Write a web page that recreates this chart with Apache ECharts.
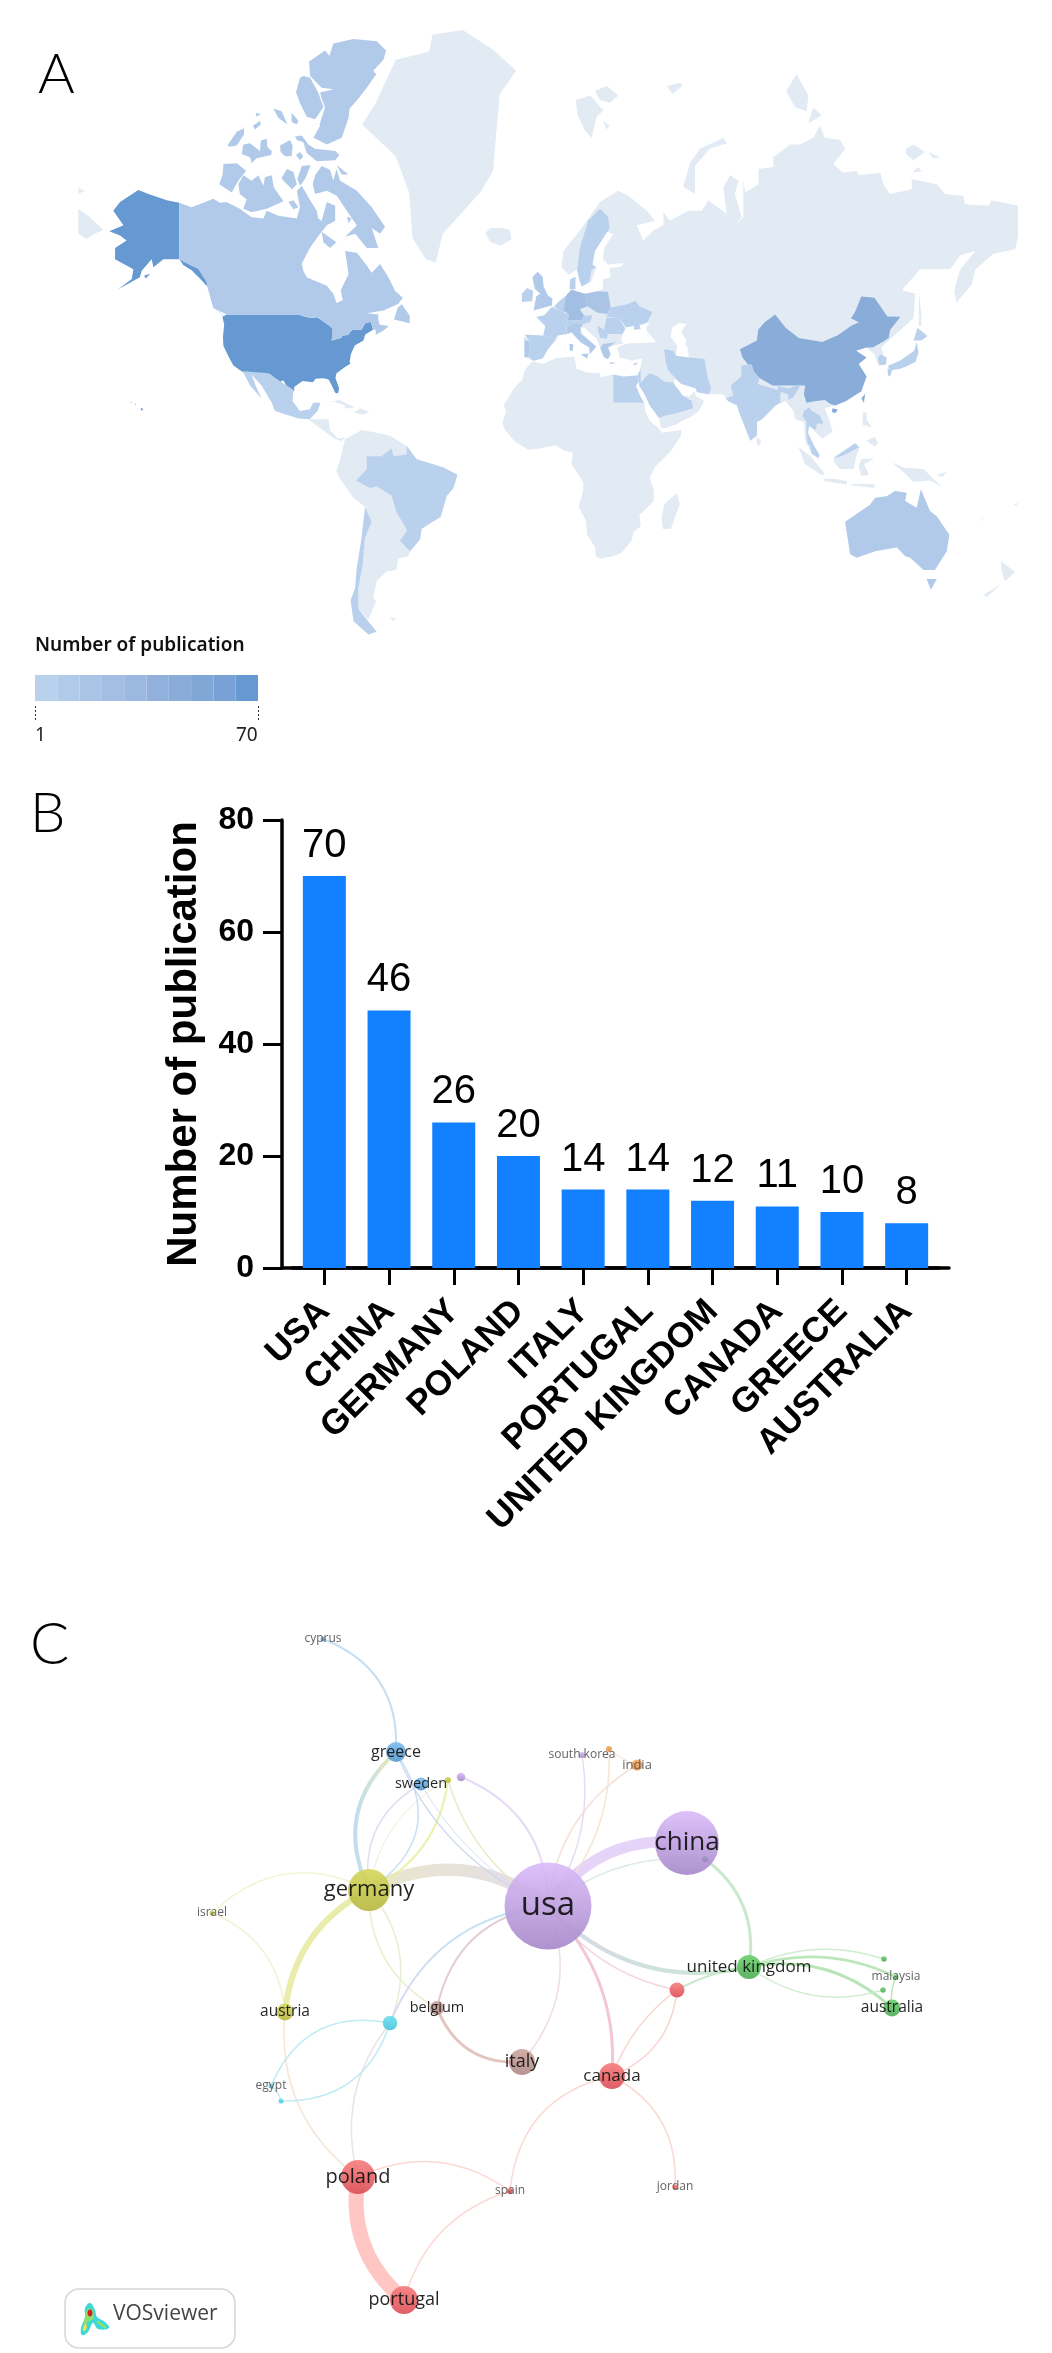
<!DOCTYPE html>
<html>
<head>
<meta charset="utf-8">
<title>Number of publication</title>
<script src="https://cdn.jsdelivr.net/npm/echarts@6/dist/echarts.min.js"></script>
<style>
  html, body { margin: 0; padding: 0; background: #fff; }
  #main { width: 1052px; height: 2353px; }
</style>
</head>
<body>
<div id="main"></div>
<script>
// panel B
const barCountries = ["USA", "CHINA", "GERMANY", "POLAND", "ITALY", "PORTUGAL", "UNITED KINGDOM", "CANADA", "GREECE", "AUSTRALIA"];
const barValues = [70, 46, 26, 20, 14, 14, 12, 11, 10, 8];

// panel A, values per region (the ones outside the top ten are read from the shade)
const mapNames = ["USA", "China", "Germany", "Poland", "Italy", "Portugal", "UK", "Canada", "Greece", "Australia", "Sweden", "Spain", "France", "Benelux", "Austria", "Switzerland", "Iran", "India", "Japan", "South Korea", "Brazil", "Mexico", "Chile", "Saudi Arabia", "Egypt", "Thailand", "Malaysia", "Ukraine", "Romania", "Serbia", "Ireland", "Denmark", "Cyprus", "Israel"];
const mapValues = [70, 46, 26, 20, 14, 14, 12, 11, 10, 8, 5, 6, 6, 6, 7, 5, 3, 6, 4, 3, 3, 4, 2, 3, 4, 2, 3, 3, 3, 3, 3, 3, 2, 2];
const legendColors = ["#bad1ee", "#b2cae9", "#aac4e6", "#a2bee3", "#9ab8e0", "#92b2dd", "#8aacd9", "#81a7d7", "#79a1d5", "#6699d1"];
const legendMin = 1;
const legendMax = 70;

// outlines as lon,lat
const shapes = {
  "Eurasia": ["-9,37 -9.3,43 -2,43.4 -1,46 -4.5,48.3 -1.5,48.7 1.5,50.5 4,52 7,53.5 8.5,54 8.5,57 10.5,57.5 10,54.5 14,54 19,54.5 21,55 21,57 24,57.5 23.5,59.3 28.2,59.6 28.8,60.3 23,60 21,61 21.5,63 25,65.3 22,65.8 17.5,62 17,60 18.5,59.5 16.5,56.5 13,55.5 11,59 8,58 5.2,59.5 5.9,62.5 12.2,65.9 19.9,70 26.9,71.4 30.8,70.8 37.8,68.8 41,67.4 34,66.7 36.5,64.3 40.3,65.9 44.2,66.7 44.2,68.6 46.7,67.4 53.7,68.8 58.9,68.8 61.4,70.2 68.4,68.4 67.2,71.8 69.7,73.2 72.9,72.6 71.6,71 74.2,67.9 71.6,66.7 74.8,67.9 74.8,72.8 75.5,71.2 80.6,72.2 80.6,73.9 86.3,74.1 86.3,75.1 92.7,76.3 96.5,76.3 101.6,76.9 104.2,77.9 106,76.9 111.9,76.7 113.8,75.9 109.3,74.4 113.1,73.5 118.2,73.7 118.9,73.2 127.2,73.5 128.5,72.2 131,71 139.3,71.6 139.3,72.8 148.9,72.2 152,71 159.1,70.8 159.7,69.7 168.7,69.5 170,70.2 180,69.5 180,64.9 178.9,62.8 170.6,62 163.6,59 162.3,56 156.5,51.9 155.5,54.5 157.8,59 163.6,62.5 157.8,61.7 154,59.1 142.5,59.1 135.5,54.7 140.6,54 140,48 132,43 127.5,40 129,37 126.5,34.5 125,38 122,40 118,39 122,37 119,35 122,31 120,26 114,22.5 110,21 106,20 108,15 109,11.5 105,8.7 100,13.5 99.5,9 103.5,3 103.5,1.3 101,3 98.5,8 98,15 94.5,16 94,19 91,22.5 88,21.5 82,16 80,15 80,10 77.5,8 73,19 72.5,21 69,22.5 67,25 61.5,25 54,36.8 54,37 53.5,40 52.5,41 53,42 51,44.5 53,46.5 50,46.8 47.5,45.5 47,43 49.5,40.5 49,37.5 50,37 50,30 48.5,30 48,29 50,26.5 51.5,24.5 54,24.2 56.3,26 56.5,24.5 59.8,22.5 57.7,19 55,17 52,15.7 49,14 45,12.8 43.3,12.7 42.5,16.5 39,21 37,25 34.9,28 34.9,29.5 34.3,31.3 35.8,35 36,36.7 32,36 30,36.5 27.5,37 26.5,40 29,40.8 31,41.2 36,41.3 41.5,41.5 38,44.5 37.5,45.5 39,47 35,46 33,45 33,46 30.5,46 28.7,44 28,42 29,41.2 26,40.7 23,40 24,38 23,36.5 21.5,37 19.5,41 18.5,42.5 14,45.5 12.5,45.5 13,44 18.5,40.3 16,38 16,40 12.5,41.5 9,44.3 4,43.4 3,42 0,39.5 -2,36.8 -5.5,36"],
  "Arctic": ["-179.9,69.1 -175.4,67.9 -170.3,66 -174.1,65.3 -176.7,64.5 -179.9,65.4", "-179.9,71.7 -177.3,71.4 -179.9,71", "67.2,76.9 68.4,76.4 62,75.9 56.3,74.2 56.3,71 51.8,71.9 54.4,74.5 58.2,75.9", "10.7,79.8 16.1,80.1 21.2,79.06 18.6,78.6 16.7,76.9 14.2,77.5 11.2,78.8", "18,80.4 22.5,80.7 26.9,80.1 23.7,79.6 19.9,79.8", "21.2,78.3 23.7,77.9 22.2,77.6", "45.5,80.7 50.6,80.9 51.5,80.7 47.7,80.2", "95.2,81.4 99.7,80.1 99.1,79 94.6,79.3 91.2,80.4", "101.6,79.3 104.8,78.7 99.7,78.1", "137.1,75.9 140,76.3 144.4,75.6 140,74.8 137.1,75.4", "145.7,75.6 150.2,75.1 147.6,75", "139.7,73.6 141.9,74.1 143.1,73.6", "142,54.3 143,49 143,46 142,46 142,50", "-24,65.5 -22,64 -18,63.4 -14,64.5 -14.5,66 -18,66.3 -22,66.3"],
  "Greenland": ["-32.6,83.6 -21,82.7 -12.2,81.6 -18.5,80.2 -20,76.8 -21,73.7 -26,71.2 -40.3,65.4 -43,60.4 -46.8,61 -51.9,64.7 -53.2,71.2 -58.3,75.2 -71.2,78 -66,79.6 -58.3,82.2 -45.6,82.6 -44.2,83.4"],
  "Africa": ["-6,35.8 -2,35 3,36.8 10,37.3 11,33.5 15,32.3 20,32 20,30.7 25,31.6 25,22 36.9,22 37.3,18.7 39,15.5 43,12 43.5,11 51,12 51,10 47,4 41,-2 39,-6 40.5,-11 40.5,-15 35,-20 35.5,-24 32.8,-26 32,-29 28,-33 25,-34 20,-34.8 18.3,-34 18,-31 15,-27 14.5,-22 11.7,-17 13.5,-11 13.5,-8 12,-5.5 9,-1 9.5,3.5 6,4.3 3,6.3 -3,5 -7.5,4.5 -12.5,7.5 -16.5,12 -17.5,14.7 -16,19 -17,21 -13,27 -9.8,30 -9,33", "49.3,-12 50.5,-16 47,-25 44,-25 43.5,-21 44.5,-16"],
  "Americas rest": ["-77.7,8.5 -71.4,12 -65.6,11 -60.5,9.9 -54.1,6 -50.3,0.9 -40,-2.2 -34.7,-5 -36.2,-10 -38.8,-13 -41.1,-20.6 -48.4,-24.9 -49,-28.5 -52.8,-32.4 -53.5,-34 -57.3,-34.7 -58,-38.2 -61.8,-38.7 -65.6,-41.5 -66.9,-46 -65.9,-47.2 -68.8,-51.6 -72.6,-49 -72.6,-43.5 -71,-37 -70.1,-28 -67.5,-22.4 -70.1,-17 -74.5,-13.8 -80.3,-5.6 -81,-3.2 -79.9,-0.2"],
  "Central rest": ["-91.8,16 -84.1,16 -83.5,11.8 -80.3,8.7 -77.7,9.3 -79,7.8 -82.2,9 -86,11.8", "-85,22 -80,23 -75,20.8 -74.2,20.2 -77.5,19.9 -78,21 -82,22.4", "-74.3,18.5 -72,20 -68.4,18.7 -71,17.8", "-60.5,-51.1 -58,-51.3 -59.5,-51.9"],
  "Islands rest": ["95.9,5.7 100.4,2.3 106.1,-4.6 104.8,-5.2 98.4,-0.9", "105.5,-6.5 110,-6.5 114.5,-7.5 114.5,-8.7 106,-7.5", "109.5,1.6 111.2,1.6 115.7,3.6 119.3,5.5 118.2,2.3 117,-2.8 111.8,-2.8 109.5,-0.2", "120,1 125,1.2 121,-1 123,-5 120,-5.5 119,-2", "131.6,-0.2 136.1,-2.2 143.8,-2.8 150.8,-9.7 146.3,-7.2 139.9,-7.8 136.8,-4.6", "148.8,-5 152.7,-4 151,-6", "164.8,-20.2 167,-22 166.5,-22", "178.3,-16.3 180,-15.5 179.5,-16.6", "120.5,18.5 122,18.5 122,16 124,13 120.5,14", "122,8 125,9.5 126.5,7 125,5.8", "116,-8.5 125,-8.5 125,-10 116,-9", "173.4,-35.5 178.9,-38.9 175,-41.6 173.8,-38.9", "173.8,-42.1 168,-46 166.8,-45.3 170.6,-43.7", "80,9.7 81.8,7.5 80.5,6 79.8,7.5"],
  "USA": ["-166.5,68.8 -163.9,70 -156.9,71.5 -153,71 -146,70.2 -141.2,69.9 -141.2,61 -137,59.9 -133.9,59.2 -130.7,56.5 -130.5,55.5 -133.3,57.2 -136.5,58.9 -139.7,59.9 -141.2,61 -147.3,61 -151.1,59.5 -151.8,61 -155.6,58.8 -156.3,57.5 -164.6,54.9 -159.4,57.1 -158.8,59.1 -165.8,61 -165.8,63 -161.4,64.3 -163.9,65.1 -168,65.8 -162.6,66.7", "-154.7,57.8 -152.4,58.2 -154,57.2", "-124.7,48.4 -123,49 -95.2,49 -94.6,48.7 -91,48.1 -88.4,48.3 -84.6,46.5 -82.5,45.3 -82.5,43 -83,42 -79,42.8 -79,43.3 -76.5,43.6 -75,45 -71.5,45 -70,46.7 -67.8,47.1 -67,45 -70,43.7 -70.7,42 -74,40.6 -75.5,38 -76,35.5 -75.5,35.2 -78,33.9 -81,32 -81.4,30.5 -80,27 -80.4,25.2 -81.5,25.5 -82.8,28 -84,30 -86,30.4 -89,30.2 -90,29.1 -94,29.5 -97.2,27.5 -97.2,26 -99.3,26.5 -101.4,29.7 -103,29 -106.5,31.8 -111,31.3 -114.8,32.5 -117.1,32.5 -120.5,34.5 -122.5,37.5 -124.3,40.4 -124.5,43 -124,46.3", "-156,20.2 -155,19.7 -155.7,19", "-158.2,21.7 -157.7,21.4 -158,21.2", "-160,22.2 -159.4,22.1 -159.7,21.8"],
  "Canada": ["-141.2,69.9 -136.5,69.3 -132,69.9 -128.2,70.4 -125.6,69.9 -123.1,70 -118,69.1 -113.5,67.9 -109,67.7 -107.7,68.8 -103.3,68.1 -96.2,67.7 -95,69.3 -96.2,71.4 -94.3,72 -91.1,70.2 -88.6,68.8 -88,67.7 -86.7,67.4 -84.7,70 -81.5,69.5 -81.5,67.4 -84.7,66.7 -87.3,65.4 -91.1,63.1 -94.3,60.2 -93.7,58.8 -92.4,57.5 -84.7,55.7 -82.2,53.9 -81,51.8 -78.6,52.4 -79.4,54.7 -76.4,58.1 -77.7,62.5 -73.2,62.2 -69.4,59.8 -67.5,58.4 -64.3,60.1 -61.1,57.5 -58.6,54.6 -55.6,53 -57.3,51.6 -63,50 -69.4,49.3 -65,49 -65,47.8 -64.5,46.3 -61,46 -60,46.5 -63,44.8 -66,43.6 -66,45 -67,45 -67.8,47.1 -70,46.7 -71.5,45 -75,45 -76.5,43.6 -79,43.3 -79,42.8 -83,42 -82.5,43 -82.5,45.3 -84.6,46.5 -88.4,48.3 -91,48.1 -94.6,48.7 -95.2,49 -123,49 -128.2,50.6 -130.5,55.5 -130.7,56.5 -133.9,59.2 -137,59.9 -141.2,61", "-82.2,83 -74.5,83.2 -65.6,83.1 -62,82.66 -63,82.2 -66.9,81.6 -65.8,81.4 -69.4,80.6 -73.2,79.76 -76,79.2 -76.4,78.5 -79,76.9 -84.7,76.3 -89.8,76.9 -87.3,77.9 -87.5,78 -85.4,79.3 -86.7,79.9 -87.3,80.3 -82.2,80.5 -86.7,80.6 -91.1,81.3 -91.5,82.1 -85.4,82.66 -83.7,82.4", "-93.7,81.3 -91.1,81.2 -88,80.3 -86,79.3 -89.2,78.4 -92.4,78.6 -95,79.6 -96.5,80.3 -95,81.2", "-105.2,79.2 -102,79 -99.8,78 -103.2,78.5", "-98.2,78.9 -95.6,78.3 -96.2,78 -98.2,78.2", "-112,78.9 -110,78.8 -111.6,78.6", "-113,77.9 -110.3,78.3 -110,78 -112.2,77.6", "-96.9,77 -94.3,77.1 -91.8,76.3 -89.2,75.9 -81.5,75.7 -79.9,75.3 -81.5,74.8 -88.6,74.7 -92.4,75.5 -93.7,76.5 -96.2,76.7", "-102.6,76.2 -98.8,76.7 -97.8,76.2 -98.2,75.2 -100.7,75.2 -102.4,75.6", "-96.5,75.3 -95,75.6 -93.7,75.2 -95,74.8", "-116.7,76.3 -114.1,76.4 -110.3,75.7 -110,76.66 -107.7,76.8 -107.5,76.1 -105.8,75.7 -106,75.3 -111.6,75 -113.5,74.5 -114.1,75.1 -117.3,75.4", "-122.8,76.2 -119.2,77.4 -116.4,77.7 -116.4,77.2 -119.2,76.2 -121.8,76.1", "-124.3,74.4 -119.2,74.5 -115.6,73.7 -118.6,72.6 -121.1,71.2 -125.9,72.2 -124.6,73.3", "-118.6,72.2 -116.7,73.2 -113.5,72.6 -110.9,73.2 -109,72 -108.4,73 -105.8,73.2 -105,71.8 -101.3,70.1 -107.7,69.1 -113.5,68.6 -116.7,69.1 -115.4,70.3 -118,71", "-102,72.9 -100,73.9 -97.5,73.6 -96.2,72.2 -98,71.6 -101.3,72.6", "-96,72.8 -94.3,74.2 -90.9,74.3 -93,72.8 -95,72", "-99.4,70 -97.5,70.2 -95.6,69.3 -97.5,69", "-89.2,73.2 -86.7,74.2 -83.5,73.8 -82.2,72.6 -81,73.9 -79.6,72.6 -73.2,71.4 -67.5,69.3 -62.4,66.5 -64.3,65.4 -67.5,66.3 -65,63 -69.4,63 -73.8,65.4 -77.7,64.9 -73.2,66.7 -75.8,68.1 -80.9,70.8 -84.7,71.4 -89.2,71 -90.1,72.2", "-81,74.3 -76.4,73.3 -79,73.3", "-86.7,65.7 -81,64 -83.5,63 -86,64", "-77,68 -75.2,67.7 -76.4,67", "-59,47.7 -53,46.7 -53,48.7 -56,51.5 -57.5,50.7", "-128,50.7 -123.5,48.4 -125,49"],
  "Mexico": ["-116.9,32.5 -114.1,32.5 -107.1,32 -102.6,29.4 -97.5,26.5 -97.8,22.5 -95,19 -91.2,19.7 -89.9,22 -87.1,22 -88.3,19 -91.2,16 -95.6,16.3 -104.6,19 -105.8,22 -109.7,28 -113.5,31.5 -112,28 -109.7,23.5 -114.1,28"],
  "Brazil": ["-54.1,6 -50.3,0.9 -40,-2.2 -34.7,-5 -36.2,-10 -38.8,-13 -41.1,-20.6 -48.4,-24.9 -49,-28.5 -52.8,-32.4 -56.7,-29 -53.9,-25.4 -58,-19 -59.9,-12.9 -65.6,-9.5 -68.2,-10 -73.5,-7.2 -69.4,-2.9 -69.4,2.1 -63.7,2.1 -59.9,5 -59.2,2.1 -54.1,2.7"],
  "Chile": ["-70.1,-17 -67.5,-22.4 -70.1,-28 -71,-37 -72.6,-43.5 -72.6,-49 -69.4,-51.6 -65.6,-54.4 -68.8,-55 -74.5,-52 -75.6,-46.8 -73.9,-43.5 -73.3,-38 -71.4,-28 -70.1,-17.5"],
  "Egypt": ["25,31.6 29,31 32,31.2 34.3,31.3 34.9,29.5 33.7,27.8 35.5,24 36.9,22 25,22"],
  "Saudi Arabia": ["34.9,29.5 36,29.2 37.5,31 39,32 42,31 44.5,29.2 46.5,29.1 48,29 48.5,28 50,26.5 51.5,24.5 55,22.7 55.5,20 52,19 48.5,18 45,17.4 43,16.7 42.5,16.5 39,21 37,25 34.9,28"],
  "Israel": ["34.3,31.3 35.5,33.2 35.5,29.6 34.9,29.5"],
  "Iran": ["44.5,39.5 48,39 49,37.5 54,37 60,36.5 61,31 62.5,27 61.5,25 57,25.7 56.5,27 51,28.5 49,30.2 46,33 45,36"],
  "China": ["73.5,39.5 80,42 80.5,45 83,47 87,49 91,45.5 96,42.7 105,41.6 111,43.5 116,46 119,47 116,48 117.5,49.5 120,53.3 125,53 130,48.5 135,48.4 131,44.9 130.5,42.7 128,41.5 124.3,40 122,40 118,39 122,37 119,35 122,31 120,26 114,22.5 110,21 108,21.6 106,23 102,22.5 99,22 98,25 98.5,28 92,28 86,28 81,30.5 78.8,32.5 74.5,37", "109,20 111,19.5 110,18.2 108.7,18.8", "121.5,25.2 121,22 120,23.5"],
  "India": ["68.2,23.6 71,24.5 70,28 74,31 74,34.5 78,35 79,32.5 81,30.3 80.3,28.5 88,26.4 88,27.8 92,27 97,28.4 94,24 92,23 92,25 89,25.8 89,22 87,21 82,16 80,15 80,10 77.5,8 73,19 72.5,21 69,22.5"],
  "Thailand": ["99.5,6.5 102,6 100.5,9 99.5,11 100,13.5 102.5,12 103,14.4 105.5,14.4 104,17.5 101,19 100,20.4 98,19 97.5,17 99,15 99,11"],
  "Malaysia": ["100.2,6.5 102,6 104,2.5 103.5,1.3 101,3", "109.5,1.6 117.6,7 119.3,5.5 115.7,3.6 111.2,1.6"],
  "Japan": ["130.4,34.5 134.8,36 140.2,39 141.2,41.6 141.9,38.5 140.8,35.7 137.4,34.3 135,33.5 131.6,33 130.4,33.5", "140,42 141.5,45.5 145.3,43.3 143,42", "130,33.5 131.8,33 131,31 130.2,31.4"],
  "South Korea": ["126.9,34.6 129.5,34.8 129.7,37 127.2,37.8 126.3,37"],
  "Australia": ["113.8,-22.4 123.3,-16.3 125.3,-13.7 129.7,-13.1 132.9,-11.2 137.4,-11.8 136.8,-14.9 141.2,-17.4 142.8,-10.5 146.3,-18.6 148.9,-20.5 153.7,-26.9 152.7,-32.4 148.2,-38.3 143.8,-38.3 138.7,-34.5 136.8,-34 133.6,-31.2 125.3,-32.4 118.2,-34.5 115.7,-33.4 114.7,-27.9", "145,-40.9 148.9,-40.9 146.6,-44"],
  "UK": ["-5.5,50 1.5,51.2 1.7,52.8 0,53.5 -1.7,55.5 -2,57.6 -4,58.6 -6,57.5 -5,55 -3,54 -4.5,53.3 -5,51.7"],
  "Ireland": ["-10,52 -6,52.2 -5.7,54.6 -8,55.2 -10,54"],
  "France": ["-4.5,48.4 -1.5,48.7 1.5,50.9 4,50 8,49 7.5,47.6 6.7,45.8 7.5,43.8 3.5,43.4 3,42.5 -1.7,43.4 -1,46"],
  "Spain": ["-9,43.7 -2,43.4 3,42.4 0,39.5 -2,36.8 -5.5,36 -7.4,37.2 -7,42"],
  "Portugal": ["-9,42 -7,42 -7.4,37.2 -9,37"],
  "Benelux": ["2.5,51 4,52 7,53.5 7,50 6,49.5 4,50"],
  "Germany": ["7,53.6 9,54.8 14.2,53.9 15,51 12.2,50.3 13.8,48.7 13,47.5 7.6,47.6 8,49 6,50"],
  "Poland": ["14.2,53.9 19,54.5 23,54.3 24,50.7 22.7,49.1 19,49.4 15,51"],
  "Denmark": ["8.2,55 8.5,57 10.5,57.6 10.5,55"],
  "Sweden": ["19.9,69.1 23.1,67.9 23.5,66.2 18,62.5 17,60 18.5,59.5 16.7,59 15.8,56.5 13,55.5 12.2,56.5 11.2,58.8 12.2,63 15.4,67.4"],
  "Ukraine": ["24,50.7 22.3,48.3 27,48.3 30,45.7 33,46 33,45 35.5,45.2 35,46.3 38,47 40,49.6 35,51 33.5,52.3 30,51.4"],
  "Romania": ["22.3,48 27,48.3 29.5,45.2 28.5,43.8 23,43.8 21.5,45"],
  "Serbia": ["19,46 21.5,45 23,44 22.5,42.5 20,42.8 19.3,44.5"],
  "Italy": ["7.5,43.8 7,45.8 10.5,46.8 13.5,46.5 12.5,45.5 12.5,44 18.5,40.3 16,38 15.8,40 12.5,41.5 9,44.3", "12.5,38 15.5,38.2 15,36.7", "8.2,41 9.7,41 9.5,39 8.4,39"],
  "Austria": ["9.6,47.5 13,47.5 13.8,48.7 17,48.7 16,47 13.5,46.5 10.5,46.8"],
  "Switzerland": ["6,46.5 7.6,47.6 9.6,47.5 10.5,46.8 7,45.8"],
  "Greece": ["20,39.7 21,41 26,41.5 24,40.5 23,40 24,38 23,36.5 21.5,37", "23.5,35.5 26.3,35.3 24,35"],
  "Cyprus": ["32.3,35 34.5,35.5 33.5,34.6"]
};

// panel C, the map layout
const nodeIds = ["usa", "china", "germany", "poland", "portugal", "italy", "canada", "uk", "australia", "malaysia", "greenA", "greenB", "greece", "sweden", "cyprus", "southKorea", "india", "orangeDot", "purpleDot", "yellowDot", "chinaDot", "israel", "austria", "belgium", "cyan", "egypt", "cyanDot", "redDot", "spain", "jordan"];
const nodeLabels = ["usa", "china", "germany", "poland", "portugal", "italy", "canada", "united kingdom", "australia", "malaysia", "", "", "greece", "sweden", "cyprus", "south korea", "india", "", "", "", "", "israel", "austria", "belgium", "", "egypt", "", "", "spain", "jordan"];
const nodeX = [548, 687, 369, 358, 404, 522, 612, 749, 892, 896, 884, 883, 396, 421, 323, 582, 637, 609, 461, 448, 705, 212, 285, 437, 390, 271, 281, 677, 510, 675];
const nodeY = [1906, 1843, 1890, 2177, 2300, 2062, 2076, 1967, 2008, 1977, 1959, 1990, 1752, 1784, 1639, 1755, 1765, 1749, 1777, 1780, 1859, 1913, 2012, 2008, 2023, 2086, 2101, 1990, 2191, 2187];
const nodeSize = [87, 64, 42, 34, 28, 26, 26, 24, 17, 5, 5.5, 5.5, 20, 13, 5, 6, 11, 6, 8.5, 6, 6, 5, 17, 14, 14.5, 5, 5, 15, 6, 5];
const nodeCluster = ["purple", "purple", "yellow", "red", "red", "brown", "red", "green", "green", "green", "green", "green", "blue", "blue", "blue", "purple", "orange", "orange", "purple", "yellow", "slate", "yellow", "yellow", "brown", "cyan", "cyan", "cyan", "red", "red", "red"];
const labelSize = [33, 26, 22, 20, 18, 18, 17, 17, 15.5, 12, 0, 0, 16, 14.5, 12, 12, 13, 0, 0, 0, 0, 12, 15.5, 14.5, 0, 12, 0, 0, 12, 12];
const clusterColors = {
  purple: ["#dbbcf9", "#a789c9"],
  yellow: ["#d6d85e", "#b7b83f"],
  red: ["#f67f7f", "#dc5058"],
  brown: ["#cfa79f", "#b08b86"],
  green: ["#6fd06f", "#4eae58"],
  blue: ["#7cbdee", "#5a9ad0"],
  orange: ["#f5ac62", "#e3934c"],
  cyan: ["#6fe0f0", "#4cc6dc"],
  slate: ["#a598cf", "#8c86b8"]
};
// source, target, width, colour, curveness
const linkRows = [
  ["usa", "china", 11, "#e0cdf7", 0.3],
  ["germany", "usa", 12, ["#e6e3c0", "#e0d6e8"], 0.31],
  ["greece", "germany", 4, ["#b4d6ef", "#e3e7a8"], -0.37],
  ["cyprus", "greece", 2, "#bcd8f0", 0.36],
  ["sweden", "germany", 1.5, "#d8dbee", -0.34],
  ["yellowDot", "germany", 2, "#e8ee9e", 0.27],
  ["yellowDot", "germany", 1, "#ebebcc", -0.25],
  ["greece", "germany", 1.5, "#c1dbf0", 0.5],
  ["greece", "usa", 1.5, "#c6d6ee", -0.2],
  ["sweden", "usa", 1, "#d0daf1", -0.15],
  ["purpleDot", "usa", 2, "#e3d3f4", 0.33],
  ["yellowDot", "usa", 1.5, "#e7e6bc", -0.2],
  ["southKorea", "usa", 1.5, "#e2d7f2", 0.2],
  ["india", "usa", 1.5, "#f1ddd1", -0.25],
  ["orangeDot", "usa", 1.5, "#f3e0cb", 0.22],
  ["orangeDot", "india", 1, "#f4dabb", -0.1],
  ["usa", "chinaDot", 1.5, "#d5e7dc", 0.2],
  ["chinaDot", "uk", 3, "#c1e4c2", 0.3],
  ["usa", "uk", 4, ["#d0d2e6", "#c0e4c8"], -0.28],
  ["usa", "redDot", 1.5, "#f3d1d8", -0.2],
  ["redDot", "uk", 2, "#c1e4c2", 0.1],
  ["redDot", "canada", 1.5, "#f8cbc6", 0.3],
  ["redDot", "canada", 1.5, "#f8cbc6", -0.15],
  ["usa", "canada", 3, "#f1bccb", 0.23],
  ["usa", "belgium", 2, "#dec3d1", -0.35],
  ["belgium", "italy", 3, "#ddbcb5", -0.36],
  ["usa", "italy", 1.5, "#ebd7df", 0.3],
  ["germany", "belgium", 1.5, "#eee7c3", -0.3],
  ["germany", "cyan", 1.5, "#e0ecca", 0.3],
  ["usa", "cyan", 2, ["#d2d3f1", "#aae7f0"], -0.3],
  ["germany", "austria", 6, "#e6e99c", -0.27],
  ["germany", "israel", 1.5, "#f0f2ca", -0.35],
  ["israel", "austria", 1.5, "#f0f0ce", 0.3],
  ["austria", "poland", 1.5, "#f3e1ce", -0.28],
  ["cyan", "poland", 1.5, "#e9dedb", -0.25],
  ["cyan", "egypt", 1.5, "#b1e9f0", -0.4],
  ["cyan", "cyanDot", 1.5, "#b1e9f0", 0.37],
  ["egypt", "cyanDot", 1.5, "#b1e9f0", 0.2],
  ["poland", "portugal", 15, "#ffbcb8", -0.28],
  ["poland", "spain", 1.5, "#fbd1cc", 0.29],
  ["portugal", "spain", 1.5, "#fbd1cc", 0.27],
  ["canada", "spain", 1.5, "#fbd1cc", -0.36],
  ["canada", "jordan", 1.5, "#fbd1cc", 0.32],
  ["uk", "greenA", 1.5, "#c8eac8", 0.2],
  ["uk", "malaysia", 2.5, "#b0e3b0", 0.2],
  ["uk", "australia", 3, "#aae0aa", 0.25],
  ["uk", "greenB", 1.5, "#c8eac8", -0.25],
  ["australia", "malaysia", 1.5, "#aae0aa", 0.15]
];

function ring(str) {
  return str.trim().split(/\s+/).map((p) => p.split(",").map(Number));
}
const world = {
  type: "FeatureCollection",
  features: Object.keys(shapes).map((name) => {
    return {
      type: "Feature",
      properties: { name: name },
      geometry: {
        type: "MultiPolygon",
        coordinates: shapes[name].map((s) => [ring(s)]),
      },
    };
  }),
};
echarts.registerMap("world", { geoJSON: world });

function mercator(lat) {
  return (Math.log(Math.tan(Math.PI / 4 + (lat * Math.PI) / 360)) * 180) / Math.PI;
}
function unmercator(y) {
  return ((2 * Math.atan(Math.exp((y * Math.PI) / 180)) - Math.PI / 2) * 180) / Math.PI;
}

const step = (legendMax - legendMin) / legendColors.length;
const pieces = legendColors.map((c, i) => {
  return { min: legendMin + i * step, max: legendMin + (i + 1) * step, color: c };
});

function linkColor(c) {
  if (typeof c === "string") return c;
  return {
    type: "linear",
    x: 0,
    y: 0,
    x2: 1,
    y2: 0,
    colorStops: [
      { offset: 0, color: c[0] },
      { offset: 1, color: c[1] },
    ],
  };
}

const labelFont = "'Liberation Sans', Arial, sans-serif";
const netFont = "'Open Sans', sans-serif";

var myChart = echarts.init(document.getElementById("main"));
var option = {
  animation: false,
  backgroundColor: "#fff",
  visualMap: {
    type: "piecewise",
    seriesIndex: 0,
    orient: "horizontal",
    left: 35,
    top: 675,
    padding: 0,
    itemWidth: 22.3,
    itemHeight: 26,
    itemGap: 0,
    itemSymbol: "rect",
    showLabel: false,
    selectedMode: false,
    pieces: pieces,
  },
  grid: [
    { left: 292, top: 820, width: 647, height: 448 },
    { left: 282, top: 820, width: 667, height: 448 },
    { left: 0, top: 1580, width: 1052, height: 773 },
  ],
  xAxis: [
    {
      gridIndex: 0,
      type: "category",
      data: barCountries,
      axisLine: { lineStyle: { color: "#000", width: 3.5 } },
      axisTick: { show: true, alignWithLabel: true, length: 17, lineStyle: { color: "#000", width: 3 } },
      axisLabel: {
        interval: 0,
        rotate: 45,
        margin: 38,
        color: "#000",
        fontFamily: labelFont,
        fontWeight: "bold",
        fontSize: 35,
      },
    },
    {
      gridIndex: 1,
      type: "value",
      min: 0,
      max: 1,
      axisLine: { show: true, lineStyle: { color: "#000", width: 3.5 } },
      axisTick: { show: false },
      axisLabel: { show: false },
      splitLine: { show: false },
    },
    { gridIndex: 2, type: "value", min: 0, max: 1052, show: false, splitLine: { show: false } },
  ],
  yAxis: [
    {
      gridIndex: 0,
      type: "value",
      min: 0,
      max: 80,
      interval: 20,
      offset: 10,
      name: "Number of publication",
      nameLocation: "middle",
      nameRotate: 90,
      nameGap: 77,
      nameTextStyle: { color: "#000", fontFamily: labelFont, fontWeight: "bold", fontSize: 42 },
      axisLine: { show: true, lineStyle: { color: "#000", width: 3.5 } },
      axisTick: { show: true, length: 19, lineStyle: { color: "#000", width: 3 } },
      axisLabel: { margin: 28, color: "#000", fontFamily: labelFont, fontWeight: "bold", fontSize: 32 },
      splitLine: { show: false },
    },
    { gridIndex: 1, type: "value", show: false, splitLine: { show: false } },
    { gridIndex: 2, type: "value", min: 1580, max: 2353, inverse: true, show: false, splitLine: { show: false } },
  ],
  series: [
    {
      type: "map",
      map: "world",
      silent: true,
      roam: false,
      left: 78,
      top: 30,
      width: 940,
      height: 609,
      boundingCoords: [
        [-180, 83.6],
        [180, -56],
      ],
      projection: {
        project: (p) => [p[0], -mercator(p[1])],
        unproject: (p) => [p[0], unmercator(-p[1])],
      },
      label: { show: false },
      itemStyle: { areaColor: "#e2ebf3", borderWidth: 0 },
      data: mapNames.map((n, i) => {
        return { name: n, value: mapValues[i] };
      }),
    },
    {
      type: "bar",
      xAxisIndex: 0,
      yAxisIndex: 0,
      data: barValues,
      barWidth: 43,
      itemStyle: { color: "#1380ff" },
      label: {
        show: true,
        position: "top",
        distance: 10,
        color: "#000",
        fontFamily: labelFont,
        fontSize: 40,
      },
    },
    {
      type: "graph",
      coordinateSystem: "cartesian2d",
      xAxisIndex: 2,
      yAxisIndex: 2,
      layout: "none",
      silent: true,
      data: nodeIds.map((id, i) => {
        const c = clusterColors[nodeCluster[i]];
        return {
          name: id,
          value: [nodeX[i], nodeY[i]],
          symbolSize: nodeSize[i],
          itemStyle: {
            opacity: 0.92,
            color: {
              type: "linear",
              x: 0,
              y: 0,
              x2: 0,
              y2: 1,
              colorStops: [
                { offset: 0, color: c[0] },
                { offset: 1, color: c[1] },
              ],
            },
          },
          label: {
            show: labelSize[i] > 0,
            position: "inside",
            formatter: nodeLabels[i],
            fontFamily: netFont,
            fontSize: labelSize[i],
            color: labelSize[i] > 13 ? "#111" : "#555",
          },
        };
      }),
      links: linkRows.map((r) => {
        return {
          source: r[0],
          target: r[1],
          lineStyle: { width: r[2], color: linkColor(r[3]), curveness: r[4], opacity: 0.85 },
        };
      }),
    },
  ],
  graphic: {
    elements: [
      { type: "text", left: 38, top: 47, style: { text: "A", font: "300 56px Lato, sans-serif", fill: "#000" } },
      { type: "text", left: 30, top: 786, style: { text: "B", font: "300 56px Lato, sans-serif", fill: "#000" } },
      { type: "text", left: 30, top: 1616, style: { text: "C", font: "300 58px Lato, sans-serif", fill: "#000" } },
      { type: "text", left: 35, top: 636, style: { text: "Number of publication", font: "600 19px 'Noto Sans', sans-serif", fill: "#111" } },
      { type: "line", shape: { x1: 35.5, y1: 706, x2: 35.5, y2: 720 }, style: { stroke: "#333", lineWidth: 1, lineDash: [2, 2] } },
      { type: "line", shape: { x1: 258.5, y1: 706, x2: 258.5, y2: 720 }, style: { stroke: "#333", lineWidth: 1, lineDash: [2, 2] } },
      { type: "text", left: 35, top: 726, style: { text: String(legendMin), font: "19px 'Noto Sans', sans-serif", fill: "#222" } },
      { type: "text", left: 236, top: 726, style: { text: String(legendMax), font: "19px 'Noto Sans', sans-serif", fill: "#222" } },
      // vosviewer badge
      { type: "rect", shape: { x: 65, y: 2289, width: 170, height: 59, r: 14 }, style: { fill: "#fff", stroke: "#d6d6d6", lineWidth: 1.5 } },
      { type: "polygon", shape: { smooth: 0.4, points: [[90, 2303], [95, 2310], [97, 2317], [105, 2322], [109, 2328], [98, 2329], [93, 2323], [88, 2332], [82, 2335], [81, 2328], [85, 2317], [85, 2308]] }, style: { fill: "#3fd8d8" } },
      { type: "polygon", shape: { smooth: 0.4, points: [[88, 2309], [93, 2311], [93, 2319], [88, 2322], [85, 2328], [83, 2332], [84, 2322]] }, style: { fill: "#8fe070" } },
      { type: "polygon", shape: { smooth: 0.4, points: [[85, 2324], [87, 2326], [85, 2331], [83, 2330]] }, style: { fill: "#eee050" } },
      { type: "line", shape: { x1: 98, y1: 2322, x2: 105, y2: 2327 }, style: { stroke: "#8fe070", lineWidth: 2.5, lineCap: "round" } },
      { type: "ellipse", shape: { cx: 90, cy: 2313, rx: 2.5, ry: 3.5 }, style: { fill: "#d42020" } },
      { type: "text", left: 113, top: 2304, style: { text: "VOSviewer", font: "21px 'Open Sans', sans-serif", fill: "#444" } },
    ],
  },
};
myChart.setOption(option);
</script>
</body>
</html>
